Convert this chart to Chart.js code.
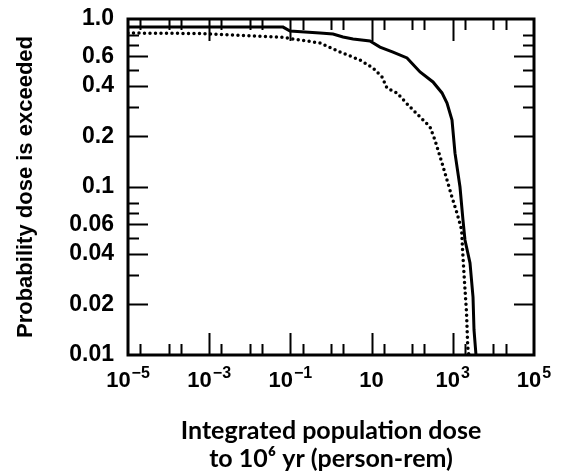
<!DOCTYPE html>
<html><head><meta charset="utf-8">
<script src="https://cdn.jsdelivr.net/npm/chart.js@4/dist/chart.umd.min.js"></script>
<style>html,body{margin:0;padding:0;background:#fff}#wrap{width:561px;height:476px;position:relative}</style>
</head><body><div id="wrap"><canvas id="c" width="561" height="476"></canvas></div>
<script>
// Solid curve
const solidDose = [1e-5, 5.9e-4, 0.066, 0.098, 0.536, 1.12, 1.98, 3.49, 9.1, 16.1, 33.7, 74.5, 156, 325, 542, 720, 956, 1133, 1504, 1782, 1995, 2653, 3148, 3330, 3727];
const solidProb = [0.895, 0.895, 0.895, 0.848, 0.825, 0.814, 0.781, 0.760, 0.740, 0.681, 0.636, 0.586, 0.484, 0.422, 0.363, 0.316, 0.250, 0.159, 0.100, 0.0636, 0.0484, 0.0353, 0.0221, 0.0141, 0.01];
// Dotted curve
const dottedDose = [1e-5, 5.9e-4, 3.25e-3, 0.0555, 0.172, 0.536, 1.67, 5.18, 10.8, 18.0, 23.9, 42.2, 78.9, 156, 274, 364, 542, 720, 956, 1268, 1650, 1740, 1930, 2180, 2330, 2480];
const dottedProb = [0.825, 0.82, 0.803, 0.781, 0.750, 0.720, 0.636, 0.570, 0.511, 0.452, 0.388, 0.363, 0.308, 0.261, 0.228, 0.190, 0.139, 0.110, 0.087, 0.070, 0.0555, 0.0422, 0.0279, 0.0178, 0.0112, 0.01];

const xTickValues = [1e-5, 1e-3, 1e-1, 10, 1e3, 1e5];
const xTickBase = ['10', '10', '10', '10', '10', '10'];
const xTickExp = ['\u22125', '\u22123', '\u22121', '', '3', '5'];
const xMajorMarks = [1e-3, 1e-1, 10, 1e3];
const xMinorMarks = [2e-5, 1e-4, 2e-4, 2e-3, 1e-2, 2e-2, 2e-1, 1, 2, 20, 100, 200, 2000, 1e4, 2e4];
const yTickValues = [1, 0.6, 0.4, 0.2, 0.1, 0.06, 0.04, 0.02, 0.01];
const yTickLabels = ['1.0', '0.6', '0.4', '0.2', '0.1', '0.06', '0.04', '0.02', '0.01'];
const yMajorMarks = [0.6, 0.4, 0.2, 0.1, 0.06, 0.04, 0.02];
const yMinorMarks = [0.8, 0.7, 0.5, 0.3, 0.08, 0.07, 0.05, 0.03];

const xTitle = ['Integrated population dose', 'to 10\u2076 yr (person-rem)'];
const yTitle = 'Probability dose is exceeded';

const SANS = "'Liberation Sans', Arial, sans-serif";

const frameTicks = {
  id: 'frameTicks',
  afterDatasetsDraw(chart) {
    const {ctx, chartArea: a, scales: {x, y}} = chart;
    ctx.save();
    ctx.strokeStyle = '#000';
    ctx.lineWidth = 2;
    ctx.lineCap = 'butt';
    const vt = (v, len) => {
      const px = Math.round(x.getPixelForValue(v)) + 0.5;
      ctx.beginPath();
      ctx.moveTo(px, a.bottom); ctx.lineTo(px, a.bottom - len);
      ctx.moveTo(px, a.top); ctx.lineTo(px, a.top + len);
      ctx.stroke();
    };
    const ht = (v, len) => {
      const py = Math.round(y.getPixelForValue(v)) + 0.5;
      ctx.beginPath();
      ctx.moveTo(a.left, py); ctx.lineTo(a.left + len, py);
      ctx.moveTo(a.right, py); ctx.lineTo(a.right - len, py);
      ctx.stroke();
    };
    xMajorMarks.forEach(v => vt(v, 22));
    xMinorMarks.forEach(v => vt(v, 11));
    yMajorMarks.forEach(v => ht(v, 20));
    yMinorMarks.forEach(v => ht(v, 11));
    ctx.lineWidth = 3;
    ctx.strokeRect(a.left, a.top, a.right - a.left, a.bottom - a.top);

    // x tick labels: power-of-ten with raised exponent, placed by the x scale
    ctx.fillStyle = '#000';
    ctx.textBaseline = 'alphabetic';
    ctx.textAlign = 'left';
    const baseFont = 'bold 22px ' + SANS;
    const expFont = 'bold 16px ' + SANS;
    const baseY = a.bottom + 32;
    xTickValues.forEach((v, i) => {
      const px = x.getPixelForValue(v);
      ctx.font = baseFont;
      const w1 = ctx.measureText(xTickBase[i]).width;
      ctx.font = expFont;
      const w2 = xTickExp[i] ? ctx.measureText(xTickExp[i]).width + 1 : 0;
      const start = px - (w1 + w2) / 2;
      ctx.font = baseFont;
      ctx.fillText(xTickBase[i], start, baseY);
      if (xTickExp[i]) {
        ctx.font = expFont;
        ctx.fillText(xTickExp[i], start + w1 + 1, baseY - 9);
      }
    });
    ctx.restore();
  }
};

new Chart(document.getElementById('c'), {
  type: 'line',
  data: {
    datasets: [
      {
        data: solidDose.map((d, i) => ({x: d, y: solidProb[i]})),
        borderColor: '#000', borderWidth: 3, pointRadius: 0, fill: false, tension: 0
      },
      {
        data: dottedDose.map((d, i) => ({x: d, y: dottedProb[i]})),
        borderColor: '#000', borderWidth: 3.5, borderDash: [0, 5.5], borderCapStyle: 'round',
        pointRadius: 0, fill: false, tension: 0
      }
    ]
  },
  options: {
    responsive: false,
    animation: false,
    layout: {padding: {left: 0, right: 27, top: 19, bottom: 0}},
    plugins: {legend: {display: false}, tooltip: {enabled: false}},
    scales: {
      x: {
        type: 'logarithmic', min: 1e-5, max: 1e5, position: 'bottom',
        afterBuildTicks: s => { s.ticks = xTickValues.map(v => ({value: v})); },
        ticks: {display: false},
        grid: {display: false, drawTicks: false},
        border: {display: false},
        title: {display: true, text: xTitle, color: '#000',
          font: {family: "Lato, 'Open Sans', sans-serif", size: 25, weight: 'bold', lineHeight: 1.12},
          padding: {top: 0, bottom: 3}},
        afterFit: s => { s.height = 121; s.paddingLeft = 0; s.paddingRight = 0; }
      },
      y: {
        type: 'logarithmic', min: 0.01, max: 1,
        afterBuildTicks: s => { s.ticks = yTickValues.map(v => ({value: v})); },
        ticks: {callback: (v, i) => yTickLabels[i], font: {family: SANS, size: 23, weight: 'bold'}, color: '#000', padding: 14, autoSkip: false},
        grid: {display: false, drawTicks: false},
        border: {display: false},
        title: {display: true, text: yTitle, color: '#000',
          font: {family: SANS, size: 22, weight: 'bold', lineHeight: 1.2},
          padding: {top: 13, bottom: 0}},
        afterFit: s => { s.width = 128; s.paddingTop = 0; s.paddingBottom = 0; }
      }
    }
  },
  plugins: [frameTicks]
});
</script>
</body></html>
